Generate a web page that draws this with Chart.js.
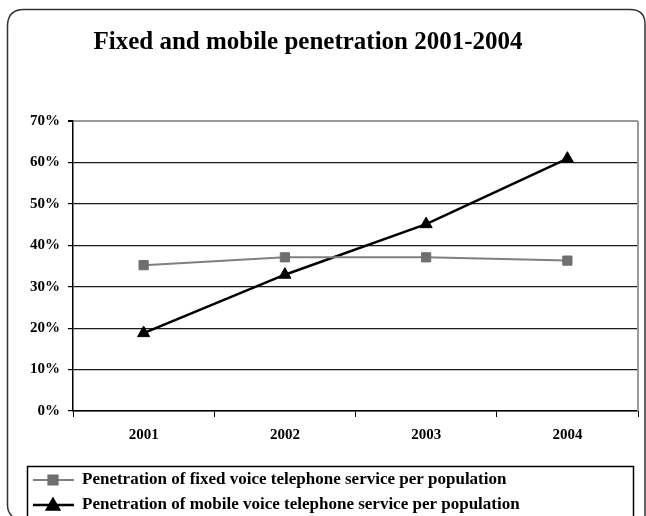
<!DOCTYPE html>
<html>
<head>
<meta charset="utf-8">
<script src="https://cdn.jsdelivr.net/npm/chart.js@4.4.1/dist/chart.umd.min.js"></script>
<style>
  html, body { margin: 0; padding: 0; background: #fff; }
  #wrap { width: 646px; height: 516px; }
</style>
</head>
<body>
<div id="wrap"><canvas id="penetration" width="646" height="516"></canvas></div>
<script>
// years on the x axis
const years = ["2001", "2002", "2003", "2004"];
// penetration per population, in percent
const fixedVoice = [35.2, 37.1, 37.1, 36.3];
const mobileVoice = [18.8, 32.9, 45.1, 60.9];
// y axis range and step, percent
const yTicks = { min: 0, max: 70, step: 10 };

const titleText = "Fixed and mobile penetration 2001-2004";
const serif = "'Liberation Serif', 'Times New Roman', serif";

// outer rounded frame, chart title, plot border and boxed legend
const decorations = {
  id: "decorations",
  beforeDraw(chart) {
    const ctx = chart.ctx;
    ctx.save();
    ctx.fillStyle = "#fff";
    ctx.fillRect(0, 0, chart.width, chart.height);
    ctx.strokeStyle = "#333";
    ctx.lineWidth = 1.5;
    ctx.beginPath();
    ctx.moveTo(12, 516);
    ctx.quadraticCurveTo(7.5, 512, 7.5, 505);
    ctx.lineTo(7.5, 26);
    ctx.quadraticCurveTo(7.5, 9.5, 24, 9.5);
    ctx.lineTo(630, 9.5);
    ctx.quadraticCurveTo(645, 9.5, 645, 24);
    ctx.lineTo(645, 516);
    ctx.stroke();

    ctx.fillStyle = "#000";
    ctx.font = "bold 25px " + serif;
    ctx.textAlign = "center";
    ctx.textBaseline = "middle";
    ctx.fillText(titleText, 308, 43);
    ctx.restore();
  },
  afterDraw(chart) {
    const ctx = chart.ctx;
    const area = chart.chartArea;
    ctx.save();
    ctx.strokeStyle = "#999";
    ctx.lineWidth = 2;
    ctx.beginPath();
    ctx.moveTo(area.right, area.top);
    ctx.lineTo(area.right, area.bottom);
    ctx.stroke();

    // legend box
    ctx.fillStyle = "#fff";
    ctx.fillRect(27.5, 466.5, 606, 60);
    ctx.strokeStyle = "#000";
    ctx.lineWidth = 1.5;
    ctx.strokeRect(27.5, 466.5, 606, 60);

    chart.data.datasets.forEach((ds, i) => {
      const y = 480 + i * 25;
      ctx.strokeStyle = ds.borderColor;
      ctx.lineWidth = ds.borderWidth;
      ctx.beginPath();
      ctx.moveTo(33, y);
      ctx.lineTo(74, y);
      ctx.stroke();
      ctx.fillStyle = ds.pointBackgroundColor;
      ctx.strokeStyle = ds.pointBorderColor;
      Chart.helpers.drawPoint(ctx, {
        pointStyle: ds.pointStyle,
        radius: ds.pointRadius,
        borderWidth: ds.pointBorderWidth,
        rotation: 0
      }, 53, ds.pointStyle === "triangle" ? y + 1 : y);
      ctx.fillStyle = "#000";
      ctx.font = "bold 17px " + serif;
      ctx.textAlign = "left";
      ctx.textBaseline = "middle";
      ctx.fillText(ds.label, 82, y);
    });
    ctx.restore();
  }
};

const tickFont = { family: serif, size: 15, weight: "bold" };

new Chart(document.getElementById("penetration"), {
  type: "line",
  data: {
    labels: years,
    datasets: [
      {
        label: "Penetration of fixed voice telephone service per population",
        data: fixedVoice,
        borderColor: "#808080",
        borderWidth: 2,
        pointStyle: "rect",
        pointRadius: 6.5,
        pointBorderWidth: 1,
        pointBackgroundColor: "#6f6f6f",
        pointBorderColor: "#6f6f6f",
        tension: 0
      },
      {
        label: "Penetration of mobile voice telephone service per population",
        data: mobileVoice,
        borderColor: "#000",
        borderWidth: 2.5,
        pointStyle: "triangle",
        pointRadius: 7,
        pointBorderWidth: 1,
        pointBackgroundColor: "#000",
        pointBorderColor: "#000",
        tension: 0
      }
    ]
  },
  options: {
    responsive: false,
    animation: false,
    devicePixelRatio: 1,
    layout: { padding: { top: 121, right: 6, left: 0, bottom: 0 } },
    plugins: {
      legend: { display: false },
      title: { display: false },
      tooltip: { enabled: false }
    },
    scales: {
      x: {
        type: "category",
        offset: true,
        afterFit(scale) { scale.height = 105; },
        grid: {
          offset: true,
          drawOnChartArea: false,
          tickLength: 6,
          tickColor: "#000",
          lineWidth: 1
        },
        border: { color: "#000", width: 1.5 },
        ticks: { font: tickFont, color: "#000", padding: 9, maxRotation: 0 }
      },
      y: {
        min: yTicks.min,
        max: yTicks.max,
        afterFit(scale) { scale.width = 73; },
        grid: {
          color: (c) => (c.tick && c.tick.value === yTicks.max ? "#999" : "#1a1a1a"),
          lineWidth: (c) => (c.tick && c.tick.value === yTicks.max ? 2 : 1.2),
          tickLength: 5,
          tickColor: "#000"
        },
        border: { color: "#000", width: 1.5 },
        ticks: {
          stepSize: yTicks.step,
          font: tickFont,
          color: "#000",
          padding: 8,
          callback: (v) => v + "%"
        }
      }
    }
  },
  plugins: [decorations]
});
</script>
</body>
</html>
